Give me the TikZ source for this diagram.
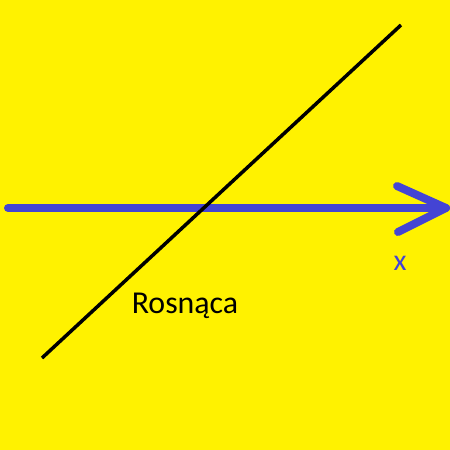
\documentclass[tikz,border=0pt]{standalone}
\usepackage{fontspec}
\setmainfont{Carlito}
\definecolor{bgyellow}{HTML}{FFF200}
\definecolor{axisblue}{HTML}{4444D4}
\begin{document}
\begin{tikzpicture}[x=1bp,y=-1bp,
  axis/.style={draw=axisblue,line width=8bp,line cap=round,line join=round},
  graphline/.style={draw=black,line width=3.5bp}]
\fill[bgyellow] (0,0) rectangle (450,450);
\useasboundingbox (0,0) rectangle (450,450);
\coordinate (xa) at (8,208);
\coordinate (xb) at (446,208);
\coordinate (ha) at (397,186);
\coordinate (hb) at (398,232);
\coordinate (la) at (42,358);
\coordinate (lb) at (401,25);
\draw[axis] (xa) -- (xb);
\draw[axis] (ha) -- (xb) -- (hb);
\draw[graphline] (la) -- (lb);
\node[text=axisblue,font=\fontsize{30}{34}\selectfont,inner sep=0,anchor=base] (xl) at (400,270) {x};
\node[text=black,font=\fontsize{32}{36}\selectfont,inner sep=0,anchor=base] (rl) at (185,313) {Rosnąca};
\end{tikzpicture}
\end{document}
